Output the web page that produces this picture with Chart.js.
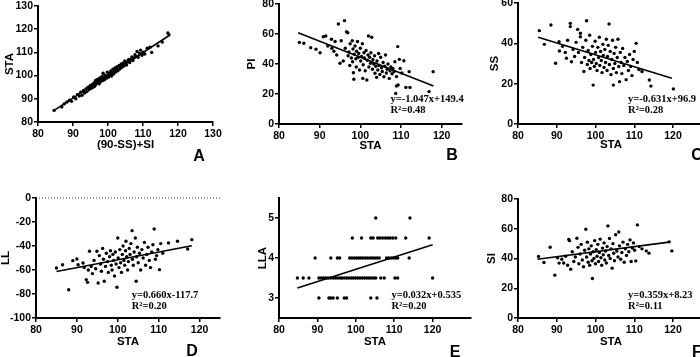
<!DOCTYPE html>
<html>
<head>
<meta charset="utf-8">
<script src="https://cdn.jsdelivr.net/npm/chart.js@4.4.1/dist/chart.umd.min.js"></script>
<style>
  html, body { margin: 0; padding: 0; background: #fff; width: 700px; height: 357px; overflow: hidden; position: relative; }
  canvas { position: absolute; }
</style>
</head>
<body>
<script>
// ---- data ----
// A: (90-SS)+SI vs STA
const calcVsSta = [
  [84.6,85.0],[86.8,86.5],[87.5,87.8],[88.3,88.6],[89.0,89.4],[89.6,88.9],[90.2,90.8],[90.8,90.0],
  [91.3,91.9],[91.8,91.2],[92.2,92.8],[92.6,91.5],[93.0,93.6],[93.3,92.5],[93.7,94.2],[94.0,93.1],
  [94.3,95.0],[94.6,94.0],[94.9,95.6],[95.2,94.5],[95.5,96.2],[95.7,95.0],[96.0,96.8],[96.2,95.4],
  [96.4,97.8],[96.6,96.3],[96.8,98.2],[97.0,96.9],[97.2,97.7],[97.4,98.6],[97.5,96.5],[97.7,99.0],
  [97.9,97.4],[98.1,98.3],[98.3,99.6],[98.5,97.9],[98.6,101.0],[98.8,99.0],[99.0,98.2],[99.2,100.2],
  [99.4,99.5],[99.6,98.9],[99.8,101.5],[100.0,100.2],[100.2,99.4],[100.4,101.0],[100.6,100.5],[100.8,102.0],
  [101.0,99.8],[101.2,101.3],[101.4,102.8],[101.6,100.7],[101.8,101.9],[102.0,103.3],[102.2,101.5],[102.4,102.6],
  [102.6,103.8],[102.8,102.1],[103.0,103.2],[103.2,104.4],[103.4,102.8],[103.6,103.9],[103.8,105.0],[104.0,103.6],
  [104.2,104.6],[104.4,105.5],[104.6,104.2],[104.8,106.3],[105.0,105.1],[105.3,104.6],[105.6,106.0],[105.9,107.0],
  [106.2,105.6],[106.5,106.8],[106.8,108.0],[107.1,106.5],[107.4,107.6],[107.7,109.0],[108.0,108.2],[108.3,110.4],
  [108.6,107.9],[109.0,109.5],[109.3,111.0],[109.7,108.8],[110.0,110.1],[110.5,109.3],[111.2,111.8],[112.0,112.2],
  [112.5,110.0],[114.3,112.8],[115.5,114.5],[117.1,118.4],[117.4,117.6]
];
const fitAX = [84.6, 117.6];
const fitAY = [85.0, 117.4];

// B: STA vs PI
const staVsPi = [
  [85.0,54.4],[86.1,53.8],[87.8,50.9],[89.1,49.8],[90.1,47.5],[90.9,58.2],[91.5,58.7],[92.0,52.0],
  [92.9,56.5],[93.0,50.5],[93.5,48.5],[93.8,55.0],[94.2,46.0],[94.6,66.7],[95.0,40.5],[95.3,55.5],
  [95.8,42.0],[96.1,68.9],[96.3,50.5],[96.6,61.5],[96.9,60.8],[97.0,45.5],[97.2,48.0],[97.4,39.0],
  [97.5,53.5],[97.8,44.0],[98.0,55.5],[98.1,41.5],[98.2,50.0],[98.3,34.2],[98.4,29.8],[98.5,46.5],
  [98.7,52.0],[98.9,43.5],[99.0,38.0],[99.1,48.5],[99.3,55.0],[99.5,44.5],[99.6,47.0],[99.8,36.0],
  [100.0,50.5],[100.1,42.0],[100.3,45.0],[100.5,53.5],[100.6,30.4],[100.7,39.5],[100.9,47.5],[101.0,44.0],
  [101.2,35.5],[101.4,49.0],[101.6,29.3],[101.7,42.5],[101.9,46.0],[102.0,58.7],[102.1,38.0],[102.3,44.5],
  [102.5,40.5],[102.6,47.5],[102.8,57.8],[103.0,36.5],[103.1,43.0],[103.3,40.0],[103.5,45.5],[103.6,33.8],
  [103.8,38.5],[104.0,31.1],[104.1,42.0],[104.3,36.0],[104.5,47.0],[104.6,39.0],[104.8,33.0],[105.0,44.5],
  [105.2,37.5],[105.4,35.0],[105.6,41.0],[105.8,31.5],[106.0,38.5],[106.2,46.0],[106.4,34.0],[106.6,36.5],
  [106.8,40.0],[107.1,30.4],[107.3,35.5],[107.5,38.0],[107.8,33.5],[108.0,37.0],[108.3,35.0],[108.5,41.5],
  [108.9,31.6],[108.9,25.3],[108.7,20.4],[109.2,51.6],[109.3,26.0],[109.6,43.1],[109.8,37.0],[110.2,34.0],
  [110.7,42.2],[111.2,24.4],[112.0,34.9],[112.2,24.4],[116.9,21.6],[117.9,34.9]
];
const fitBX = [84.7, 118.0];
const fitBY = [60.9, 25.3];

// C: STA vs SS
const staVsSs = [
  [85.5,46.3],[86.8,39.5],[88.5,49.1],[89.7,30.1],[90.6,40.8],[90.7,36.2],[91.5,38.5],[92.2,35.5],
  [92.5,32.6],[92.8,41.5],[93.5,49.9],[93.5,48.3],[93.8,30.9],[94.2,37.0],[94.6,33.5],[95.0,40.5],
  [95.4,46.9],[95.6,35.5],[96.1,45.0],[96.1,43.3],[96.4,30.5],[96.7,38.0],[97.0,26.0],[97.2,33.0],
  [97.5,41.5],[97.7,51.2],[97.9,29.5],[98.1,36.5],[98.3,31.5],[98.5,44.0],[98.6,27.5],[98.8,34.5],
  [99.0,30.5],[99.2,38.5],[99.4,19.3],[99.5,32.0],[99.7,28.5],[99.9,41.0],[100.0,35.5],[100.2,30.0],
  [100.4,26.5],[100.6,38.0],[100.8,33.0],[101.0,43.0],[101.1,29.0],[101.3,36.0],[101.5,31.5],[101.7,25.5],
  [101.9,39.5],[102.0,34.0],[102.2,28.0],[102.4,37.0],[102.6,30.5],[102.8,42.0],[103.0,26.5],[103.1,33.5],
  [103.3,39.0],[103.5,49.6],[103.6,29.5],[103.8,36.0],[104.0,24.5],[104.2,32.0],[104.4,41.5],[104.6,19.3],
  [104.6,27.5],[104.8,35.0],[105.0,30.0],[105.2,38.0],[105.4,25.5],[105.6,33.0],[105.8,42.0],[106.0,28.5],
  [106.2,21.0],[106.4,35.5],[106.6,30.5],[106.8,25.0],[107.0,37.5],[107.3,29.0],[107.6,33.0],[107.9,22.0],
  [108.2,31.0],[108.5,26.5],[108.8,34.5],[109.1,28.5],[109.4,24.0],[109.7,32.0],[110.0,36.0],[110.5,40.0],
  [110.8,30.5],[111.2,27.0],[112.0,26.0],[113.9,21.8],[114.3,18.8],[120.1,17.4]
];
const fitCX = [85.2, 119.7];
const fitCY = [43.0, 22.7];

// D: STA vs LL
const staVsLl = [
  [85.0,-58.3],[86.5,-55.6],[88.0,-76.4],[89.0,-52.2],[90.0,-50.8],[90.3,-55.6],[91.5,-54.2],[91.8,-58],
  [92.3,-68],[92.6,-70.3],[92.8,-60],[93.1,-44.4],[93.5,-57],[93.8,-63],[94.2,-52],[94.6,-59],
  [94.9,-44.4],[95.2,-70.8],[95.5,-48],[95.8,-55],[96.0,-61],[96.3,-42],[96.5,-51],[96.7,-69.4],
  [97.0,-57],[97.2,-46],[97.5,-53],[97.7,-62],[98.0,-49],[98.2,-44],[98.4,-56],[98.6,-60],
  [98.8,-47],[99.0,-52],[99.2,-65],[99.4,-45],[99.6,-55],[99.8,-74.4],[100.0,-33.3],[100.1,-50],
  [100.3,-58],[100.5,-43],[100.7,-54],[100.9,-62],[101.1,-47],[101.3,-40],[101.5,-52],[101.7,-56],
  [101.9,-44],[102.0,-36],[102.2,-49],[102.4,-60],[102.6,-53],[102.8,-42],[103.0,-47],[103.2,-38],
  [103.5,-27.2],[103.6,-51],[103.8,-56],[104.0,-45],[104.3,-33.3],[104.5,-69.4],[104.6,-49],[104.8,-41],
  [105.0,-54],[105.3,-46],[105.6,-60],[105.9,-43],[106.2,-50],[106.5,-37],[106.8,-56],[107.1,-47],
  [107.4,-41],[107.7,-52],[108.0,-58],[108.3,-45],[108.6,-39],[108.9,-25.8],[109.2,-51],[109.5,-48],
  [109.8,-43],[110.2,-59.7],[110.5,-38],[111.0,-46],[112.4,-37.5],[114.6,-36.1],[117.1,-42.5],[118.1,-34.7]
];
const fitDX = [85.0, 118.1];
const fitDY = [-61.2, -39.8];
const zeroLineX = [80, 125];
const zeroLineY = [0, 0];

// E: STA vs LLA
const staVsLla = [
  [90.4,3],[93.0,3],[93.5,3],[94.1,3],[95.2,3],[97.0,3],[97.6,3],[103.9,3],[105.5,3],
  [84.8,3.5],[86.3,3.5],[87.8,3.5],[90.4,3.5],[91.0,3.5],[91.6,3.5],[92.2,3.5],[92.8,3.5],[93.4,3.5],
  [94.1,3.5],[94.7,3.5],[95.3,3.5],[95.9,3.5],[96.4,3.5],[97.0,3.5],[97.6,3.5],[98.2,3.5],[98.8,3.5],
  [99.3,3.5],[99.9,3.5],[100.5,3.5],[101.1,3.5],[101.7,3.5],[102.3,3.5],[102.9,3.5],[103.4,3.5],[104.0,3.5],
  [104.6,3.5],[105.2,3.5],[106.5,3.5],[107.4,3.5],[110.2,3.5],[110.9,3.5],[120.0,3.5],
  [89.4,4],[93.5,4],[95.2,4],[95.8,4],[98.4,4],[99.0,4],[99.6,4],[100.2,4],[100.8,4],[101.3,4],
  [101.9,4],[102.5,4],[103.1,4],[103.7,4],[104.3,4],[104.9,4],[105.5,4],[106.1,4],[108.0,4],[108.6,4],
  [109.2,4],[109.8,4],[110.4,4],[110.9,4],[113.9,4],
  [99.1,4.5],[101.5,4.5],[103.9,4.5],[104.5,4.5],[105.7,4.5],[106.3,4.5],[107.0,4.5],[107.7,4.5],
  [108.3,4.5],[108.9,4.5],[109.6,4.5],[110.4,4.5],[113.0,4.5],[119.1,4.5],
  [105.2,5],[114.1,5]
];
const fitEX = [84.8, 120.0];
const fitEY = [3.25, 4.33];

// F: STA vs SI
const staVsSi = [
  [85.3,41.3],[86.7,37.3],[88.3,47.6],[89.5,28.8],[90.2,40.5],[90.6,36.9],[91.3,39.5],[91.8,37.0],
  [92.3,41.5],[92.8,35.5],[93.1,52.8],[93.3,52.0],[93.6,32.8],[94.0,44.5],[94.4,38.0],[94.8,41.0],
  [95.2,53.6],[95.5,47.5],[95.7,36.5],[96.0,43.0],[96.3,49.5],[96.6,39.0],[96.9,34.5],[97.2,45.5],
  [97.5,59.7],[97.7,41.0],[97.9,51.0],[98.1,37.5],[98.3,46.5],[98.5,35.5],[98.7,43.0],[98.9,48.5],
  [99.1,38.5],[99.2,26.6],[99.4,44.5],[99.6,40.0],[99.8,52.0],[100.0,36.5],[100.2,46.0],[100.4,41.5],
  [100.6,49.5],[100.8,38.0],[101.0,44.0],[101.2,53.0],[101.4,40.5],[101.6,35.5],[101.8,47.0],[102.0,42.5],
  [102.2,50.5],[102.4,39.0],[102.6,45.0],[102.8,37.0],[103.0,48.0],[103.2,61.9],[103.4,42.0],[103.6,53.5],
  [103.8,40.0],[104.0,46.5],[104.3,33.5],[104.5,50.0],[104.7,43.5],[104.9,38.5],[105.2,56.0],[105.5,45.0],
  [105.8,41.0],[106.0,57.8],[106.2,48.5],[106.5,39.5],[106.8,44.0],[107.1,51.0],[107.4,37.5],[107.7,46.5],
  [108.0,42.0],[108.3,49.5],[108.6,44.5],[108.9,52.5],[109.2,38.0],[109.5,47.0],[109.8,50.5],[110.1,45.5],
  [110.4,38.4],[110.8,62.6],[111.3,48.0],[112.0,46.5],[113.1,45.1],[113.8,43.6],[119.0,51.2],[119.7,45.1]
];
const fitFX = [85.0, 119.0];
const fitFY = [39.5, 51.0];

// tick values
const calcTicks = [80, 90, 100, 110, 120, 130];
const staTicksA = [80, 90, 100, 110, 120, 130];
const staTicks = [80, 90, 100, 110, 120];
const piTicks = [0, 20, 40, 60, 80];
const ssTicks = [0, 20, 40, 60];
const llTicks = [-100, -80, -60, -40, -20, 0];
const llaTicks = [3, 4, 5];
const siTicks = [0, 20, 40, 60, 80];

// ---- drawing ----
Chart.defaults.font.family = '"Liberation Sans", Arial, sans-serif';
Chart.defaults.font.weight = 'bold';
Chart.defaults.font.size = 10.5;
Chart.defaults.color = '#000';

const PAD = { l: 60, t: 12, r: 14, b: 50 };
const TITLE_SIZE = 11.5;
const TITLE_LH = TITLE_SIZE * 1.2;

// equation text (data coords) and the panel letter (page coords)
const notes = {
  id: 'notes',
  afterDraw(chart, args, opts) {
    const { ctx, scales } = chart;
    ctx.save();
    ctx.fillStyle = '#000';
    if (opts.eq) {
      ctx.font = 'bold 10.5px "Liberation Serif", "Times New Roman", serif';
      ctx.textAlign = 'left';
      ctx.textBaseline = 'middle';
      opts.eq.forEach(e => {
        ctx.fillText(e.text, scales.x.getPixelForValue(e.x), scales.y.getPixelForValue(e.y));
      });
    }
    if (opts.letter) {
      ctx.font = 'bold 16px "Liberation Sans", Arial, sans-serif';
      ctx.textAlign = 'center';
      ctx.textBaseline = 'middle';
      ctx.fillText(opts.letter, opts.letterAt[0] - opts.origin[0], opts.letterAt[1] - opts.origin[1]);
    }
    ctx.restore();
  }
};

function axis(a, isY) {
  const pad = isY
    ? { top: PAD.l - a.gap - TITLE_LH / 2, bottom: 0 }
    : { top: 0, bottom: PAD.b - a.gap - TITLE_LH / 2 };
  return {
    type: 'linear',
    min: a.min,
    max: a.max,
    afterBuildTicks: s => { s.ticks = a.ticks.map(v => ({ value: v })); },
    afterFit: s => { if (isY) s.width = PAD.l; else s.height = PAD.b; },
    ticks: { padding: isY ? 1 : 2, color: '#000', font: { size: 10.5, weight: 'bold' } },
    grid: { drawOnChartArea: false, drawTicks: true, tickLength: 4, color: '#000', lineWidth: 1.5 },
    border: { display: true, color: '#000', width: 2 },
    title: {
      display: true, text: a.title, color: '#000', padding: pad,
      font: { size: TITLE_SIZE, weight: 'bold' }
    }
  };
}

function pairs(xs, ys) {
  return xs.map((x, i) => ({ x, y: ys[i] }));
}

function drawPanel(p) {
  const { l, t, r, b } = p.area;
  const w = r - l + PAD.l + PAD.r;
  const h = b - t + PAD.t + PAD.b;
  const origin = [l - PAD.l, t - PAD.t];
  const c = document.createElement('canvas');
  c.width = w; c.height = h;
  c.style.left = origin[0] + 'px';
  c.style.top = origin[1] + 'px';
  c.style.width = w + 'px';
  c.style.height = h + 'px';
  document.body.appendChild(c);

  const datasets = [
    {
      data: p.pts.map(([x, y]) => ({ x, y })),
      pointRadius: 1.7, pointBackgroundColor: '#000', pointBorderWidth: 0, pointStyle: 'circle'
    },
    {
      data: pairs(p.fitX, p.fitY), showLine: true, borderColor: '#000', borderWidth: 1.6,
      pointRadius: 0, fill: false
    }
  ];
  if (p.zero) {
    datasets.push({
      data: pairs(p.zero[0], p.zero[1]), showLine: true, borderColor: '#333', borderWidth: 1,
      borderDash: [1, 2], pointRadius: 0, clip: false
    });
  }

  new Chart(c, {
    type: 'scatter',
    data: { datasets },
    options: {
      responsive: false,
      animation: false,
      devicePixelRatio: 1,
      events: [],
      layout: { padding: { left: 0, top: PAD.t, right: PAD.r, bottom: 0 } },
      scales: { x: axis(p.x, false), y: axis(p.y, true) },
      plugins: {
        legend: { display: false },
        tooltip: { enabled: false },
        notes: { eq: p.eq, letter: p.letter, letterAt: p.letterAt, origin }
      }
    },
    plugins: [notes]
  });
}

const panels = [
  {
    area: { l: 38, t: 6, r: 213, b: 122 }, pts: calcVsSta, fitX: fitAX, fitY: fitAY,
    x: { min: 80, max: 130, ticks: calcTicks, title: '(90-SS)+SI', gap: 23 },
    y: { min: 80, max: 130, ticks: staTicksA, title: 'STA', gap: 28 },
    letter: 'A', letterAt: [199, 157]
  },
  {
    area: { l: 279, t: 4, r: 462, b: 124 }, pts: staVsPi, fitX: fitBX, fitY: fitBY,
    x: { min: 80, max: 125, ticks: staTicks, title: 'STA', gap: 22 },
    y: { min: 0, max: 80, ticks: piTicks, title: 'PI', gap: 27.5 },
    eq: [{ text: 'y=-1.047x+149.4', x: 107.4, y: 16.5 }, { text: 'R\u00b2=0.48', x: 107.4, y: 9.3 }],
    letter: 'B', letterAt: [452, 156]
  },
  {
    area: { l: 518, t: 3, r: 704, b: 124 }, pts: staVsSs, fitX: fitCX, fitY: fitCY,
    x: { min: 80, max: 128, ticks: staTicks, title: 'STA', gap: 21 },
    y: { min: 0, max: 60, ticks: ssTicks, title: 'SS', gap: 23.5 },
    eq: [{ text: 'y=-0.631x+96.9', x: 108.4, y: 12.2 }, { text: 'R\u00b2=0.28', x: 108.4, y: 6.9 }],
    letter: 'C', letterAt: [697, 156]
  },
  {
    area: { l: 36, t: 198, r: 220, b: 318 }, pts: staVsLl, fitX: fitDX, fitY: fitDY,
    zero: [zeroLineX, zeroLineY],
    x: { min: 80, max: 125, ticks: staTicks, title: 'STA', gap: 24 },
    y: { min: -100, max: 0, ticks: llTicks, title: 'LL', gap: 30 },
    eq: [{ text: 'y=0.660x-117.7', x: 103.4, y: -81.4 }, { text: 'R\u00b2=0.20', x: 103.4, y: -90.6 }],
    letter: 'D', letterAt: [192, 352]
  },
  {
    area: { l: 279, t: 198, r: 471, b: 318 }, pts: staVsLla, fitX: fitEX, fitY: fitEY,
    x: { min: 80, max: 130, ticks: staTicks, title: 'STA', gap: 24 },
    y: { min: 2.5, max: 5.5, ticks: llaTicks, title: 'LLA', gap: 16 },
    eq: [{ text: 'y=0.032x+0.535', x: 109.3, y: 3.06 }, { text: 'R\u00b2=0.20', x: 109.3, y: 2.79 }],
    letter: 'E', letterAt: [455, 353]
  },
  {
    area: { l: 518, t: 199, r: 704, b: 318 }, pts: staVsSi, fitX: fitFX, fitY: fitFY,
    x: { min: 80, max: 128, ticks: staTicks, title: 'STA', gap: 24 },
    y: { min: 0, max: 80, ticks: siTicks, title: 'SI', gap: 26.5 },
    eq: [{ text: 'y=0.359x+8.23', x: 108.4, y: 15.0 }, { text: 'R\u00b2=0.11', x: 108.4, y: 7.6 }],
    letter: 'F', letterAt: [697, 353]
  }
];

panels.forEach(drawPanel);
</script>
</body>
</html>
